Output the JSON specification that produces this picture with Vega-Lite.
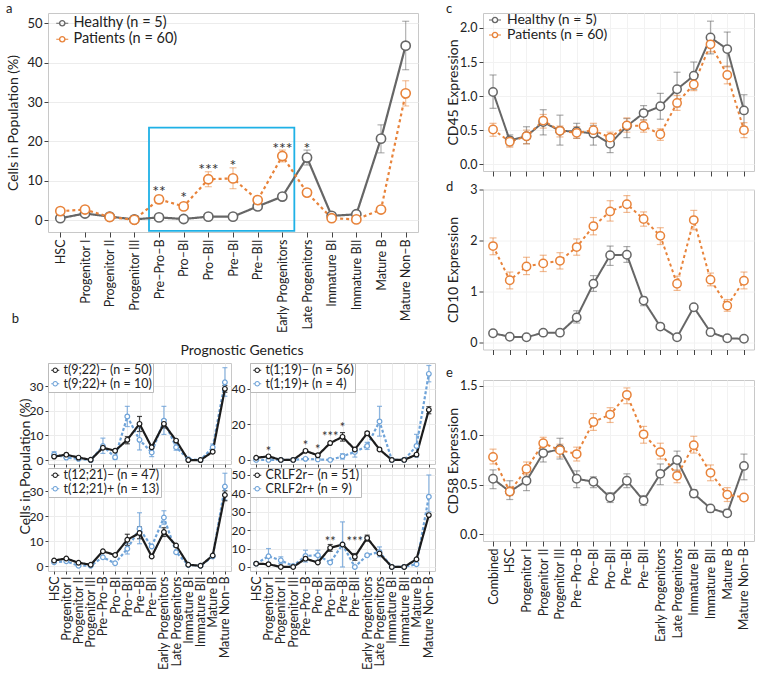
{
"$schema":"https://vega.github.io/schema/vega-lite/v6.json",
"background":"white",
"padding":{"left":5,"top":2,"right":0,"bottom":0},
"config":{"font":"Lato","view":{"stroke":"#c8c8c8"},
 "axis":{"labelFont":"Lato","titleFont":"Lato","labelColor":"#222","titleColor":"#222","tickColor":"#444","domain":false,"titleFontWeight":"normal","labelFontSize":12,"titleFontSize":13,"gridColor":"#ececec","labelPadding":2},
 "legend":{"labelFont":"Lato","labelColor":"#222"},
 "title":{"anchor":"start","frame":"bounds","fontSize":13,"fontWeight":"normal","offset":-3,"font":"Lato","color":"#222"}},
"datasets":{
"a":[
{"c":"HSC","g":"Healthy (n = 5)","v":0.5,"lo":0.2,"hi":0.8},
{"c":"Progenitor I","g":"Healthy (n = 5)","v":1.7,"lo":1.2,"hi":2.2},
{"c":"Progenitor II","g":"Healthy (n = 5)","v":0.9},
{"c":"Progenitor III","g":"Healthy (n = 5)","v":0.2},
{"c":"Pre–Pro–B","g":"Healthy (n = 5)","v":0.7},
{"c":"Pro–BI","g":"Healthy (n = 5)","v":0.3},
{"c":"Pro–BII","g":"Healthy (n = 5)","v":0.9},
{"c":"Pre–BI","g":"Healthy (n = 5)","v":0.9},
{"c":"Pre–BII","g":"Healthy (n = 5)","v":3.5,"lo":2.8,"hi":4.2},
{"c":"Early Progenitors","g":"Healthy (n = 5)","v":6.0,"lo":5.2,"hi":6.8},
{"c":"Late Progenitors","g":"Healthy (n = 5)","v":15.9,"lo":14.0,"hi":17.8},
{"c":"Immature BI","g":"Healthy (n = 5)","v":1.1},
{"c":"Immature BII","g":"Healthy (n = 5)","v":1.5},
{"c":"Mature B","g":"Healthy (n = 5)","v":20.7,"lo":17.1,"hi":24.2},
{"c":"Mature Non–B","g":"Healthy (n = 5)","v":44.3,"lo":38.2,"hi":50.5},
{"c":"HSC","g":"Patients (n = 60)","v":2.3},
{"c":"Progenitor I","g":"Patients (n = 60)","v":2.7},
{"c":"Progenitor II","g":"Patients (n = 60)","v":0.8},
{"c":"Progenitor III","g":"Patients (n = 60)","v":0.1},
{"c":"Pre–Pro–B","g":"Patients (n = 60)","v":5.3,"lo":4.3,"hi":6.3},
{"c":"Pro–BI","g":"Patients (n = 60)","v":3.5,"lo":2.7,"hi":4.3},
{"c":"Pro–BII","g":"Patients (n = 60)","v":10.4,"lo":8.5,"hi":12.3},
{"c":"Pre–BI","g":"Patients (n = 60)","v":10.6,"lo":8.0,"hi":13.3},
{"c":"Pre–BII","g":"Patients (n = 60)","v":5.1,"lo":4.2,"hi":6.0},
{"c":"Early Progenitors","g":"Patients (n = 60)","v":16.3,"lo":14.8,"hi":17.8},
{"c":"Late Progenitors","g":"Patients (n = 60)","v":7.0,"lo":6.2,"hi":7.8},
{"c":"Immature BI","g":"Patients (n = 60)","v":0.5},
{"c":"Immature BII","g":"Patients (n = 60)","v":0.2},
{"c":"Mature B","g":"Patients (n = 60)","v":2.7,"lo":2.0,"hi":3.4},
{"c":"Mature Non–B","g":"Patients (n = 60)","v":32.2,"lo":29.0,"hi":35.4}
],
"sa":[
{"c":"Pre–Pro–B","y":8.4,"s":"**"},
{"c":"Pro–BI","y":6.8,"s":"*"},
{"c":"Pro–BII","y":14.0,"s":"***"},
{"c":"Pre–BI","y":14.9,"s":"*"},
{"c":"Early Progenitors","y":19.4,"s":"***"},
{"c":"Late Progenitors","y":19.4,"s":"*"}
],
"box":[{"c1":"Pre–Pro–B","c2":"Early Progenitors","y1":23.5,"y2":-2.7}],
"cd45":[
{"c":"Combined","g":"Healthy (n = 5)","v":1.06,"lo":0.82,"hi":1.31},
{"c":"HSC","g":"Healthy (n = 5)","v":0.35,"lo":0.27,"hi":0.43},
{"c":"Progenitor I","g":"Healthy (n = 5)","v":0.41,"lo":0.30,"hi":0.55},
{"c":"Progenitor II","g":"Healthy (n = 5)","v":0.62,"lo":0.43,"hi":0.80},
{"c":"Progenitor III","g":"Healthy (n = 5)","v":0.49,"lo":0.28,"hi":0.72},
{"c":"Pre–Pro–B","g":"Healthy (n = 5)","v":0.48,"lo":0.38,"hi":0.60},
{"c":"Pro–BI","g":"Healthy (n = 5)","v":0.45,"lo":0.28,"hi":0.57},
{"c":"Pro–BII","g":"Healthy (n = 5)","v":0.30,"lo":0.17,"hi":0.43},
{"c":"Pre–BI","g":"Healthy (n = 5)","v":0.56,"lo":0.39,"hi":0.67},
{"c":"Pre–BII","g":"Healthy (n = 5)","v":0.75,"lo":0.65,"hi":0.86},
{"c":"Early Progenitors","g":"Healthy (n = 5)","v":0.85,"lo":0.66,"hi":1.04},
{"c":"Late Progenitors","g":"Healthy (n = 5)","v":1.10,"lo":0.84,"hi":1.35},
{"c":"Immature BI","g":"Healthy (n = 5)","v":1.30,"lo":1.10,"hi":1.50},
{"c":"Immature BII","g":"Healthy (n = 5)","v":1.86,"lo":1.62,"hi":2.10},
{"c":"Mature B","g":"Healthy (n = 5)","v":1.69,"lo":1.43,"hi":1.94},
{"c":"Mature Non–B","g":"Healthy (n = 5)","v":0.79,"lo":0.55,"hi":1.02},
{"c":"Combined","g":"Patients (n = 60)","v":0.51,"lo":0.41,"hi":0.60},
{"c":"HSC","g":"Patients (n = 60)","v":0.33,"lo":0.25,"hi":0.40},
{"c":"Progenitor I","g":"Patients (n = 60)","v":0.41,"lo":0.30,"hi":0.50},
{"c":"Progenitor II","g":"Patients (n = 60)","v":0.64,"lo":0.53,"hi":0.73},
{"c":"Progenitor III","g":"Patients (n = 60)","v":0.49,"lo":0.40,"hi":0.56},
{"c":"Pre–Pro–B","g":"Patients (n = 60)","v":0.46,"lo":0.38,"hi":0.55},
{"c":"Pro–BI","g":"Patients (n = 60)","v":0.50,"lo":0.40,"hi":0.60},
{"c":"Pro–BII","g":"Patients (n = 60)","v":0.39,"lo":0.31,"hi":0.47},
{"c":"Pre–BI","g":"Patients (n = 60)","v":0.57,"lo":0.47,"hi":0.68},
{"c":"Pre–BII","g":"Patients (n = 60)","v":0.56,"lo":0.47,"hi":0.65},
{"c":"Early Progenitors","g":"Patients (n = 60)","v":0.44,"lo":0.35,"hi":0.52},
{"c":"Late Progenitors","g":"Patients (n = 60)","v":0.90,"lo":0.79,"hi":1.01},
{"c":"Immature BI","g":"Patients (n = 60)","v":1.17,"lo":1.08,"hi":1.28},
{"c":"Immature BII","g":"Patients (n = 60)","v":1.76,"lo":1.65,"hi":1.87},
{"c":"Mature B","g":"Patients (n = 60)","v":1.31,"lo":1.18,"hi":1.44},
{"c":"Mature Non–B","g":"Patients (n = 60)","v":0.50,"lo":0.39,"hi":0.61}
],
"cd10":[
{"c":"Combined","g":"Healthy (n = 5)","v":0.18,"lo":0.14,"hi":0.22},
{"c":"HSC","g":"Healthy (n = 5)","v":0.11},
{"c":"Progenitor I","g":"Healthy (n = 5)","v":0.10},
{"c":"Progenitor II","g":"Healthy (n = 5)","v":0.19,"lo":0.14,"hi":0.24},
{"c":"Progenitor III","g":"Healthy (n = 5)","v":0.19},
{"c":"Pre–Pro–B","g":"Healthy (n = 5)","v":0.49,"lo":0.38,"hi":0.62},
{"c":"Pro–BI","g":"Healthy (n = 5)","v":1.15,"lo":1.0,"hi":1.31},
{"c":"Pro–BII","g":"Healthy (n = 5)","v":1.71,"lo":1.51,"hi":1.89},
{"c":"Pre–BI","g":"Healthy (n = 5)","v":1.72,"lo":1.57,"hi":1.88},
{"c":"Pre–BII","g":"Healthy (n = 5)","v":0.82,"lo":0.72,"hi":0.89},
{"c":"Early Progenitors","g":"Healthy (n = 5)","v":0.31,"lo":0.26,"hi":0.36},
{"c":"Late Progenitors","g":"Healthy (n = 5)","v":0.10},
{"c":"Immature BI","g":"Healthy (n = 5)","v":0.69},
{"c":"Immature BII","g":"Healthy (n = 5)","v":0.20},
{"c":"Mature B","g":"Healthy (n = 5)","v":0.08},
{"c":"Mature Non–B","g":"Healthy (n = 5)","v":0.07},
{"c":"Combined","g":"Patients (n = 60)","v":1.89,"lo":1.72,"hi":2.05},
{"c":"HSC","g":"Patients (n = 60)","v":1.22,"lo":1.05,"hi":1.38},
{"c":"Progenitor I","g":"Patients (n = 60)","v":1.49,"lo":1.33,"hi":1.67},
{"c":"Progenitor II","g":"Patients (n = 60)","v":1.55,"lo":1.39,"hi":1.71},
{"c":"Progenitor III","g":"Patients (n = 60)","v":1.60,"lo":1.44,"hi":1.76},
{"c":"Pre–Pro–B","g":"Patients (n = 60)","v":1.87,"lo":1.71,"hi":2.03},
{"c":"Pro–BI","g":"Patients (n = 60)","v":2.28,"lo":2.11,"hi":2.45},
{"c":"Pro–BII","g":"Patients (n = 60)","v":2.57,"lo":2.38,"hi":2.78},
{"c":"Pre–BI","g":"Patients (n = 60)","v":2.71,"lo":2.55,"hi":2.88},
{"c":"Pre–BII","g":"Patients (n = 60)","v":2.42,"lo":2.28,"hi":2.56},
{"c":"Early Progenitors","g":"Patients (n = 60)","v":2.09,"lo":1.92,"hi":2.25},
{"c":"Late Progenitors","g":"Patients (n = 60)","v":1.15,"lo":1.02,"hi":1.30},
{"c":"Immature BI","g":"Patients (n = 60)","v":2.40,"lo":2.21,"hi":2.59},
{"c":"Immature BII","g":"Patients (n = 60)","v":1.23,"lo":1.11,"hi":1.36},
{"c":"Mature B","g":"Patients (n = 60)","v":0.72,"lo":0.61,"hi":0.84},
{"c":"Mature Non–B","g":"Patients (n = 60)","v":1.21,"lo":1.05,"hi":1.38}
],
"cd58":[
{"c":"Combined","g":"Healthy (n = 5)","v":0.56,"lo":0.46,"hi":0.65},
{"c":"HSC","g":"Healthy (n = 5)","v":0.43,"lo":0.35,"hi":0.54},
{"c":"Progenitor I","g":"Healthy (n = 5)","v":0.54,"lo":0.44,"hi":0.64},
{"c":"Progenitor II","g":"Healthy (n = 5)","v":0.82,"lo":0.73,"hi":0.91},
{"c":"Progenitor III","g":"Healthy (n = 5)","v":0.86,"lo":0.76,"hi":0.97},
{"c":"Pre–Pro–B","g":"Healthy (n = 5)","v":0.56,"lo":0.47,"hi":0.64},
{"c":"Pro–BI","g":"Healthy (n = 5)","v":0.53,"lo":0.47,"hi":0.58},
{"c":"Pro–BII","g":"Healthy (n = 5)","v":0.37,"lo":0.32,"hi":0.42},
{"c":"Pre–BI","g":"Healthy (n = 5)","v":0.54,"lo":0.47,"hi":0.61},
{"c":"Pre–BII","g":"Healthy (n = 5)","v":0.34,"lo":0.29,"hi":0.39},
{"c":"Early Progenitors","g":"Healthy (n = 5)","v":0.61,"lo":0.50,"hi":0.71},
{"c":"Late Progenitors","g":"Healthy (n = 5)","v":0.75,"lo":0.64,"hi":0.84},
{"c":"Immature BI","g":"Healthy (n = 5)","v":0.41,"lo":0.37,"hi":0.45},
{"c":"Immature BII","g":"Healthy (n = 5)","v":0.26,"lo":0.22,"hi":0.29},
{"c":"Mature B","g":"Healthy (n = 5)","v":0.21,"lo":0.18,"hi":0.25},
{"c":"Mature Non–B","g":"Healthy (n = 5)","v":0.69,"lo":0.55,"hi":0.81},
{"c":"Combined","g":"Patients (n = 60)","v":0.78,"lo":0.71,"hi":0.86},
{"c":"HSC","g":"Patients (n = 60)","v":0.43,"lo":0.39,"hi":0.48},
{"c":"Progenitor I","g":"Patients (n = 60)","v":0.66,"lo":0.60,"hi":0.73},
{"c":"Progenitor II","g":"Patients (n = 60)","v":0.92,"lo":0.85,"hi":0.98},
{"c":"Progenitor III","g":"Patients (n = 60)","v":0.85,"lo":0.78,"hi":0.91},
{"c":"Pre–Pro–B","g":"Patients (n = 60)","v":0.81,"lo":0.74,"hi":0.88},
{"c":"Pro–BI","g":"Patients (n = 60)","v":1.135,"lo":1.05,"hi":1.22},
{"c":"Pro–BII","g":"Patients (n = 60)","v":1.21,"lo":1.13,"hi":1.28},
{"c":"Pre–BI","g":"Patients (n = 60)","v":1.41,"lo":1.32,"hi":1.48},
{"c":"Pre–BII","g":"Patients (n = 60)","v":1.01,"lo":0.92,"hi":1.09},
{"c":"Early Progenitors","g":"Patients (n = 60)","v":0.83,"lo":0.76,"hi":0.92},
{"c":"Late Progenitors","g":"Patients (n = 60)","v":0.59,"lo":0.52,"hi":0.65},
{"c":"Immature BI","g":"Patients (n = 60)","v":0.90,"lo":0.82,"hi":0.99},
{"c":"Immature BII","g":"Patients (n = 60)","v":0.62,"lo":0.54,"hi":0.70},
{"c":"Mature B","g":"Patients (n = 60)","v":0.40,"lo":0.33,"hi":0.47},
{"c":"Mature Non–B","g":"Patients (n = 60)","v":0.37,"lo":0.34,"hi":0.40}
],
"b1":[
{"c":"HSC","g":"t(9;22)+ (n = 10)","v":2.3,"lo":1.1,"hi":3.4},
{"c":"Progenitor I","g":"t(9;22)+ (n = 10)","v":1.0},
{"c":"Progenitor II","g":"t(9;22)+ (n = 10)","v":0.5},
{"c":"Progenitor III","g":"t(9;22)+ (n = 10)","v":0.0},
{"c":"Pre–Pro–B","g":"t(9;22)+ (n = 10)","v":5.7,"lo":2.7,"hi":8.9},
{"c":"Pro–BI","g":"t(9;22)+ (n = 10)","v":1.1,"lo":0.4,"hi":2.0},
{"c":"Pro–BII","g":"t(9;22)+ (n = 10)","v":17.7,"lo":13.6,"hi":21.8},
{"c":"Pre–BI","g":"t(9;22)+ (n = 10)","v":8.2,"lo":4.1,"hi":13.0},
{"c":"Pre–BII","g":"t(9;22)+ (n = 10)","v":3.1,"lo":1.4,"hi":4.8},
{"c":"Early Progenitors","g":"t(9;22)+ (n = 10)","v":16.0,"lo":10.4,"hi":21.8},
{"c":"Late Progenitors","g":"t(9;22)+ (n = 10)","v":5.2,"lo":4.0,"hi":6.5},
{"c":"Immature BI","g":"t(9;22)+ (n = 10)","v":0.4},
{"c":"Immature BII","g":"t(9;22)+ (n = 10)","v":0.0},
{"c":"Mature B","g":"t(9;22)+ (n = 10)","v":5.2,"lo":4.0,"hi":6.5},
{"c":"Mature Non–B","g":"t(9;22)+ (n = 10)","v":31.6,"lo":25.9,"hi":37.5},
{"c":"HSC","g":"t(9;22)– (n = 50)","v":1.4},
{"c":"Progenitor I","g":"t(9;22)– (n = 50)","v":2.2},
{"c":"Progenitor II","g":"t(9;22)– (n = 50)","v":1.0},
{"c":"Progenitor III","g":"t(9;22)– (n = 50)","v":0.1},
{"c":"Pre–Pro–B","g":"t(9;22)– (n = 50)","v":5.0},
{"c":"Pro–BI","g":"t(9;22)– (n = 50)","v":3.8},
{"c":"Pro–BII","g":"t(9;22)– (n = 50)","v":8.2,"lo":6.6,"hi":9.5},
{"c":"Pre–BI","g":"t(9;22)– (n = 50)","v":14.7,"lo":11.6,"hi":17.7},
{"c":"Pre–BII","g":"t(9;22)– (n = 50)","v":5.2},
{"c":"Early Progenitors","g":"t(9;22)– (n = 50)","v":14.7,"lo":13.0,"hi":16.3},
{"c":"Late Progenitors","g":"t(9;22)– (n = 50)","v":7.9},
{"c":"Immature BI","g":"t(9;22)– (n = 50)","v":0.0},
{"c":"Immature BII","g":"t(9;22)– (n = 50)","v":0.0},
{"c":"Mature B","g":"t(9;22)– (n = 50)","v":3.4},
{"c":"Mature Non–B","g":"t(9;22)– (n = 50)","v":28.9,"lo":27.5,"hi":30.3}
],
"b2":[
{"c":"HSC","g":"t(1;19)+ (n = 4)","v":0.0},
{"c":"Progenitor I","g":"t(1;19)+ (n = 4)","v":0.0},
{"c":"Progenitor II","g":"t(1;19)+ (n = 4)","v":0.0},
{"c":"Progenitor III","g":"t(1;19)+ (n = 4)","v":0.0},
{"c":"Pre–Pro–B","g":"t(1;19)+ (n = 4)","v":0.6},
{"c":"Pro–BI","g":"t(1;19)+ (n = 4)","v":0.3},
{"c":"Pro–BII","g":"t(1;19)+ (n = 4)","v":0.0},
{"c":"Pre–BI","g":"t(1;19)+ (n = 4)","v":2.0,"lo":0.5,"hi":3.5},
{"c":"Pre–BII","g":"t(1;19)+ (n = 4)","v":4.5,"lo":1.6,"hi":6.5},
{"c":"Early Progenitors","g":"t(1;19)+ (n = 4)","v":7.9,"lo":5.9,"hi":9.9},
{"c":"Late Progenitors","g":"t(1;19)+ (n = 4)","v":21.7,"lo":13.4,"hi":30.2},
{"c":"Immature BI","g":"t(1;19)+ (n = 4)","v":0.0},
{"c":"Immature BII","g":"t(1;19)+ (n = 4)","v":0.0},
{"c":"Mature B","g":"t(1;19)+ (n = 4)","v":7.9,"lo":1.6,"hi":14.4},
{"c":"Mature Non–B","g":"t(1;19)+ (n = 4)","v":48.5,"lo":44.0,"hi":53.2},
{"c":"HSC","g":"t(1;19)– (n = 56)","v":1.2},
{"c":"Progenitor I","g":"t(1;19)– (n = 56)","v":2.0},
{"c":"Progenitor II","g":"t(1;19)– (n = 56)","v":0.0},
{"c":"Progenitor III","g":"t(1;19)– (n = 56)","v":0.0},
{"c":"Pre–Pro–B","g":"t(1;19)– (n = 56)","v":5.1},
{"c":"Pro–BI","g":"t(1;19)– (n = 56)","v":2.6},
{"c":"Pro–BII","g":"t(1;19)– (n = 56)","v":9.5},
{"c":"Pre–BI","g":"t(1;19)– (n = 56)","v":13.0,"lo":10.6,"hi":15.4},
{"c":"Pre–BII","g":"t(1;19)– (n = 56)","v":5.9},
{"c":"Early Progenitors","g":"t(1;19)– (n = 56)","v":15.0,"lo":14.0,"hi":16.0},
{"c":"Late Progenitors","g":"t(1;19)– (n = 56)","v":5.9},
{"c":"Immature BI","g":"t(1;19)– (n = 56)","v":0.0},
{"c":"Immature BII","g":"t(1;19)– (n = 56)","v":0.0},
{"c":"Mature B","g":"t(1;19)– (n = 56)","v":3.0},
{"c":"Mature Non–B","g":"t(1;19)– (n = 56)","v":28.2,"lo":26.0,"hi":30.0}
],
"s2":[
{"c":"Progenitor I","y":6.5,"s":"*"},
{"c":"Pre–Pro–B","y":9.9,"s":"*"},
{"c":"Pro–BI","y":7.9,"s":"*"},
{"c":"Pro–BII","y":15.0,"s":"***"},
{"c":"Pre–BI","y":20.3,"s":"*"}
],
"b3":[
{"c":"HSC","g":"t(12;21)+ (n = 13)","v":1.5},
{"c":"Progenitor I","g":"t(12;21)+ (n = 13)","v":1.9},
{"c":"Progenitor II","g":"t(12;21)+ (n = 13)","v":0.1},
{"c":"Progenitor III","g":"t(12;21)+ (n = 13)","v":0.1},
{"c":"Pre–Pro–B","g":"t(12;21)+ (n = 13)","v":3.5},
{"c":"Pro–BI","g":"t(12;21)+ (n = 13)","v":1.1},
{"c":"Pro–BII","g":"t(12;21)+ (n = 13)","v":6.9,"lo":4.8,"hi":8.9},
{"c":"Pre–BI","g":"t(12;21)+ (n = 13)","v":14.9,"lo":8.9,"hi":21.3},
{"c":"Pre–BII","g":"t(12;21)+ (n = 13)","v":7.8},
{"c":"Early Progenitors","g":"t(12;21)+ (n = 13)","v":19.4,"lo":16.7,"hi":22.1},
{"c":"Late Progenitors","g":"t(12;21)+ (n = 13)","v":5.5},
{"c":"Immature BI","g":"t(12;21)+ (n = 13)","v":0.4},
{"c":"Immature BII","g":"t(12;21)+ (n = 13)","v":0.1},
{"c":"Mature B","g":"t(12;21)+ (n = 13)","v":3.8},
{"c":"Mature Non–B","g":"t(12;21)+ (n = 13)","v":31.8,"lo":26.4,"hi":37.1},
{"c":"HSC","g":"t(12;21)– (n = 47)","v":2.2},
{"c":"Progenitor I","g":"t(12;21)– (n = 47)","v":3.0},
{"c":"Progenitor II","g":"t(12;21)– (n = 47)","v":1.3},
{"c":"Progenitor III","g":"t(12;21)– (n = 47)","v":0.5},
{"c":"Pre–Pro–B","g":"t(12;21)– (n = 47)","v":5.9},
{"c":"Pro–BI","g":"t(12;21)– (n = 47)","v":4.4},
{"c":"Pro–BII","g":"t(12;21)– (n = 47)","v":10.5,"lo":8.2,"hi":12.7},
{"c":"Pre–BI","g":"t(12;21)– (n = 47)","v":13.2,"lo":10.9,"hi":15.6},
{"c":"Pre–BII","g":"t(12;21)– (n = 47)","v":3.8},
{"c":"Early Progenitors","g":"t(12;21)– (n = 47)","v":13.6,"lo":11.8,"hi":15.3},
{"c":"Late Progenitors","g":"t(12;21)– (n = 47)","v":8.2},
{"c":"Immature BI","g":"t(12;21)– (n = 47)","v":0.5},
{"c":"Immature BII","g":"t(12;21)– (n = 47)","v":0.1},
{"c":"Mature B","g":"t(12;21)– (n = 47)","v":4.2},
{"c":"Mature Non–B","g":"t(12;21)– (n = 47)","v":28.4,"lo":26.1,"hi":30.1}
],
"b4":[
{"c":"HSC","g":"CRLF2r+ (n = 9)","v":1.8},
{"c":"Progenitor I","g":"CRLF2r+ (n = 9)","v":5.8,"lo":1.8,"hi":10.0},
{"c":"Progenitor II","g":"CRLF2r+ (n = 9)","v":3.6,"lo":1.8,"hi":5.5},
{"c":"Progenitor III","g":"CRLF2r+ (n = 9)","v":0.5},
{"c":"Pre–Pro–B","g":"CRLF2r+ (n = 9)","v":6.0,"lo":2.7,"hi":9.1},
{"c":"Pro–BI","g":"CRLF2r+ (n = 9)","v":6.4,"lo":3.6,"hi":9.1},
{"c":"Pro–BII","g":"CRLF2r+ (n = 9)","v":2.4},
{"c":"Pre–BI","g":"CRLF2r+ (n = 9)","v":12.2,"lo":0.0,"hi":24.5},
{"c":"Pre–BII","g":"CRLF2r+ (n = 9)","v":0.0},
{"c":"Early Progenitors","g":"CRLF2r+ (n = 9)","v":6.4},
{"c":"Late Progenitors","g":"CRLF2r+ (n = 9)","v":8.2,"lo":5.5,"hi":10.9},
{"c":"Immature BI","g":"CRLF2r+ (n = 9)","v":0.0},
{"c":"Immature BII","g":"CRLF2r+ (n = 9)","v":0.0},
{"c":"Mature B","g":"CRLF2r+ (n = 9)","v":1.5},
{"c":"Mature Non–B","g":"CRLF2r+ (n = 9)","v":38.2,"lo":30.0,"hi":50.0},
{"c":"HSC","g":"CRLF2r– (n = 51)","v":1.8},
{"c":"Progenitor I","g":"CRLF2r– (n = 51)","v":1.5},
{"c":"Progenitor II","g":"CRLF2r– (n = 51)","v":0.0},
{"c":"Progenitor III","g":"CRLF2r– (n = 51)","v":0.0},
{"c":"Pre–Pro–B","g":"CRLF2r– (n = 51)","v":4.5},
{"c":"Pro–BI","g":"CRLF2r– (n = 51)","v":2.4},
{"c":"Pro–BII","g":"CRLF2r– (n = 51)","v":10.4,"lo":8.5,"hi":12.2},
{"c":"Pre–BI","g":"CRLF2r– (n = 51)","v":12.2},
{"c":"Pre–BII","g":"CRLF2r– (n = 51)","v":5.5,"lo":3.6,"hi":7.3},
{"c":"Early Progenitors","g":"CRLF2r– (n = 51)","v":15.8,"lo":14.0,"hi":17.3},
{"c":"Late Progenitors","g":"CRLF2r– (n = 51)","v":7.3},
{"c":"Immature BI","g":"CRLF2r– (n = 51)","v":0.0},
{"c":"Immature BII","g":"CRLF2r– (n = 51)","v":0.0},
{"c":"Mature B","g":"CRLF2r– (n = 51)","v":4.2},
{"c":"Mature Non–B","g":"CRLF2r– (n = 51)","v":28.2}
],
"s4":[
{"c":"Pro–BII","y":15.8,"s":"**"},
{"c":"Pre–BII","y":15.8,"s":"***"}
]
},
"spacing":9,
"resolve":{"scale":{"x":"independent","y":"independent","color":"independent","strokeDash":"independent"},"legend":{"color":"independent"}},
"hconcat":[
{"spacing":10,"align":"none",
 "resolve":{"scale":{"x":"independent","y":"independent","color":"independent","strokeDash":"independent"},"legend":{"color":"independent"}},
 "vconcat":[
 {"width":370,"height":219,"title":{"text":"a"},
  "data":{"name":"a"},
  "encoding":{"x":{"field":"c","type":"ordinal","sort":["HSC","Progenitor I","Progenitor II","Progenitor III","Pre–Pro–B","Pro–BI","Pro–BII","Pre–BI","Pre–BII","Early Progenitors","Late Progenitors","Immature BI","Immature BII","Mature B","Mature Non–B"],"scale":{"type":"point","padding":0.5,"domain":["HSC","Progenitor I","Progenitor II","Progenitor III","Pre–Pro–B","Pro–BI","Pro–BII","Pre–BI","Pre–BII","Early Progenitors","Late Progenitors","Immature BI","Immature BII","Mature B","Mature Non–B"]},
    "axis":{"title":"b","titleX":-33,"titleY":86,"titleAngle":0,"titleAlign":"center","titleBaseline":"middle","titleFontSize":13,"labelAngle":-90,"labelFontSize":12.5,"tickSize":5,"labelPadding":2}}},
  "layer":[
   {"data":{"name":"box"},"mark":{"type":"rect","fill":null,"fillOpacity":0,"stroke":"#1fb1e6","strokeWidth":1.8,"xOffset":-10,"x2Offset":12},
    "encoding":{"x":{"field":"c1","type":"ordinal","scale":{"type":"point","padding":0.5,"domain":["HSC","Progenitor I","Progenitor II","Progenitor III","Pre–Pro–B","Pro–BI","Pro–BII","Pre–BI","Pre–BII","Early Progenitors","Late Progenitors","Immature BI","Immature BII","Mature B","Mature Non–B"]}},"x2":{"field":"c2"},
     "y":{"field":"y1","type":"quantitative","scale":{"domain":[-3,52.6],"nice":false,"zero":false},"axis":{"values":[0,10,20,30,40,50],"titleX":-35,"titleBaseline":"middle","titleFontSize":14,"labelFontSize":13,"tickSize":4},"title":"Cells in Population (%)"},"y2":{"field":"y2"}}},
   {"transform":[{"filter":"isValid(datum.lo)"}],"mark":{"type":"errorbar","ticks":{"size":7},"thickness":1.2,"opacity":0.5},
    "encoding":{"y":{"field":"lo","type":"quantitative","scale":{"domain":[-3,52.6],"nice":false,"zero":false},"axis":{"values":[0,10,20,30,40,50],"titleX":-35,"titleBaseline":"middle","titleFontSize":14,"labelFontSize":13,"tickSize":4},"title":"Cells in Population (%)"},"y2":{"field":"hi"},
     "color":{"field":"g","type":"nominal","scale":{"domain":["Healthy (n = 5)","Patients (n = 60)"],"range":["#666666","#e8833a"]},"legend":{"orient":"top-left","title":null,"offset":3,"padding":0,"labelFontSize":14.5,"symbolType":"M-1,-0.1H-0.55V0.1H-1Z M0.55,-0.1H1V0.1H0.55Z M0.56,0A0.56,0.56,0,1,1,-0.56,0A0.56,0.56,0,1,1,0.56,0Z M0.32,0A0.32,0.32,0,1,0,-0.32,0A0.32,0.32,0,1,0,0.32,0Z","symbolSize":144,"symbolStrokeWidth":0,"symbolOpacity":1,"symbolOffset":4,"rowPadding":1,"labelOffset":4}}}},
   {"mark":{"type":"line","strokeWidth":2.2},
    "encoding":{"y":{"field":"v","type":"quantitative","scale":{"domain":[-3,52.6],"nice":false,"zero":false},"axis":{"values":[0,10,20,30,40,50],"titleX":-35,"titleBaseline":"middle","titleFontSize":14,"labelFontSize":13,"tickSize":4},"title":"Cells in Population (%)"},
     "color":{"field":"g","type":"nominal","scale":{"domain":["Healthy (n = 5)","Patients (n = 60)"],"range":["#666666","#e8833a"]},"legend":{"orient":"top-left","title":null,"offset":3,"padding":0,"labelFontSize":14.5,"symbolType":"M-1,-0.1H-0.55V0.1H-1Z M0.55,-0.1H1V0.1H0.55Z M0.56,0A0.56,0.56,0,1,1,-0.56,0A0.56,0.56,0,1,1,0.56,0Z M0.32,0A0.32,0.32,0,1,0,-0.32,0A0.32,0.32,0,1,0,0.32,0Z","symbolSize":144,"symbolStrokeWidth":0,"symbolOpacity":1,"symbolOffset":4,"rowPadding":1,"labelOffset":4}},
     "strokeDash":{"field":"g","type":"nominal","scale":{"domain":["Healthy (n = 5)","Patients (n = 60)"],"range":[[1,0],[3,3]]},"legend":null}}},
   {"mark":{"type":"point","filled":false,"fill":"white","fillOpacity":1,"size":85,"strokeWidth":1.6,"opacity":1},
    "encoding":{"y":{"field":"v","type":"quantitative","scale":{"domain":[-3,52.6],"nice":false,"zero":false},"axis":{"values":[0,10,20,30,40,50],"titleX":-35,"titleBaseline":"middle","titleFontSize":14,"labelFontSize":13,"tickSize":4},"title":"Cells in Population (%)"},
     "color":{"field":"g","type":"nominal","scale":{"domain":["Healthy (n = 5)","Patients (n = 60)"],"range":["#666666","#e8833a"]},"legend":{"orient":"top-left","title":null,"offset":3,"padding":0,"labelFontSize":14.5,"symbolType":"M-1,-0.1H-0.55V0.1H-1Z M0.55,-0.1H1V0.1H0.55Z M0.56,0A0.56,0.56,0,1,1,-0.56,0A0.56,0.56,0,1,1,0.56,0Z M0.32,0A0.32,0.32,0,1,0,-0.32,0A0.32,0.32,0,1,0,0.32,0Z","symbolSize":144,"symbolStrokeWidth":0,"symbolOpacity":1,"symbolOffset":4,"rowPadding":1,"labelOffset":4}}}},
   {"data":{"name":"sa"},"mark":{"type":"text","fontSize":16,"baseline":"middle","dy":5,"color":"#333"},
    "encoding":{"y":{"field":"y","type":"quantitative","scale":{"domain":[-3,52.6],"nice":false,"zero":false},"axis":{"values":[0,10,20,30,40,50],"titleX":-35,"titleBaseline":"middle","titleFontSize":14,"labelFontSize":13,"tickSize":4},"title":"Cells in Population (%)"},"text":{"field":"s"}}}
  ]},
 {"title":{"text":"Prognostic Genetics","anchor":"start","align":"center","dx":194,"fontSize":14,"offset":4,"frame":"group"},
  "columns":2,"bounds":"flush","spacing":{"row":4,"column":19},
  "resolve":{"scale":{"x":"independent","y":"independent","color":"independent","strokeDash":"independent"},"legend":{"color":"independent"}},
  "concat":[
  {"width":183,"height":101,"data":{"name":"b1"},
   "encoding":{"x":{"field":"c","type":"ordinal","sort":["HSC","Progenitor I","Progenitor II","Progenitor III","Pre–Pro–B","Pro–BI","Pro–BII","Pre–BI","Pre–BII","Early Progenitors","Late Progenitors","Immature BI","Immature BII","Mature B","Mature Non–B"],"scale":{"type":"point","padding":0.5},"axis":{"title":null,"labels":false,"tickSize":3,"grid":true}},
     "y":{"field":"v","type":"quantitative","scale":{"domain":[-1.6,39.4],"nice":false,"zero":false},"axis":{"values":[0,10,20,30],"title":null,"tickSize":3,"grid":true,"labelFontSize":12}},
     "color":{"field":"g","type":"nominal","scale":{"domain":["t(9;22)– (n = 50)","t(9;22)+ (n = 10)"],"range":["#1c1c1c","#6fa3d8"]},"legend":{"orient":"top-left","title":null,"offset":0,"padding":1,"labelFontSize":12.5,"symbolType":"M-1,-0.13H-0.65V0.13H-1Z M0.65,-0.13H1V0.13H0.65Z M0.68,0A0.68,0.68,0,1,1,-0.68,0A0.68,0.68,0,1,1,0.68,0Z M0.42,0A0.42,0.42,0,1,0,-0.42,0A0.42,0.42,0,1,0,0.42,0Z","symbolSize":64,"symbolStrokeWidth":0,"symbolOpacity":1,"rowPadding":0.5,"labelOffset":2,"strokeColor":"#bbbbbb","fillColor":"white"}}},
   "layer":[
    {"transform":[{"filter":"isValid(datum.lo)"}],"mark":{"type":"errorbar","ticks":{"size":5},"thickness":1.2,"opacity":0.8},"encoding":{"y":{"field":"lo","type":"quantitative"},"y2":{"field":"hi"}}},
    {"mark":{"type":"line","strokeWidth":2.2},"encoding":{"strokeDash":{"field":"g","type":"nominal","scale":{"domain":["t(9;22)– (n = 50)","t(9;22)+ (n = 10)"],"range":[[1,0],[3,2]]},"legend":null}}},
    {"mark":{"type":"point","filled":false,"fill":"white","fillOpacity":1,"size":22,"strokeWidth":1.2,"opacity":1}}
   ]},
  {"width":185,"height":101,"data":{"name":"b2"},
   "encoding":{"x":{"field":"c","type":"ordinal","sort":["HSC","Progenitor I","Progenitor II","Progenitor III","Pre–Pro–B","Pro–BI","Pro–BII","Pre–BI","Pre–BII","Early Progenitors","Late Progenitors","Immature BI","Immature BII","Mature B","Mature Non–B"],"scale":{"type":"point","padding":0.5,"domain":["HSC","Progenitor I","Progenitor II","Progenitor III","Pre–Pro–B","Pro–BI","Pro–BII","Pre–BI","Pre–BII","Early Progenitors","Late Progenitors","Immature BI","Immature BII","Mature B","Mature Non–B"]},"axis":{"title":null,"labels":false,"tickSize":3,"grid":true}},
     "y":{"field":"v","type":"quantitative","scale":{"domain":[-2.3,54.6],"nice":false,"zero":false},"axis":{"values":[0,20,40],"title":null,"tickSize":3,"grid":true,"labelFontSize":12}},
     "color":{"field":"g","type":"nominal","scale":{"domain":["t(1;19)– (n = 56)","t(1;19)+ (n = 4)"],"range":["#1c1c1c","#6fa3d8"]},"legend":{"orient":"top-left","title":null,"offset":0,"padding":1,"labelFontSize":12.5,"symbolType":"M-1,-0.13H-0.65V0.13H-1Z M0.65,-0.13H1V0.13H0.65Z M0.68,0A0.68,0.68,0,1,1,-0.68,0A0.68,0.68,0,1,1,0.68,0Z M0.42,0A0.42,0.42,0,1,0,-0.42,0A0.42,0.42,0,1,0,0.42,0Z","symbolSize":64,"symbolStrokeWidth":0,"symbolOpacity":1,"rowPadding":0.5,"labelOffset":2,"strokeColor":"#bbbbbb","fillColor":"white"}}},
   "layer":[
    {"transform":[{"filter":"isValid(datum.lo)"}],"mark":{"type":"errorbar","ticks":{"size":5},"thickness":1.2,"opacity":0.8},"encoding":{"y":{"field":"lo","type":"quantitative"},"y2":{"field":"hi"}}},
    {"mark":{"type":"line","strokeWidth":2.2},"encoding":{"strokeDash":{"field":"g","type":"nominal","scale":{"domain":["t(1;19)– (n = 56)","t(1;19)+ (n = 4)"],"range":[[1,0],[3,2]]},"legend":null}}},
    {"mark":{"type":"point","filled":false,"fill":"white","fillOpacity":1,"size":22,"strokeWidth":1.2,"opacity":1}},
    {"data":{"name":"s2"},"mark":{"type":"text","fontSize":13,"baseline":"middle","dy":4,"color":"#333"},"encoding":{"y":{"field":"y","type":"quantitative"},"text":{"field":"s"},"color":{"value":"#333"}}}
   ]},
  {"width":183,"height":103,"data":{"name":"b3"},
   "encoding":{"x":{"field":"c","type":"ordinal","sort":["HSC","Progenitor I","Progenitor II","Progenitor III","Pre–Pro–B","Pro–BI","Pro–BII","Pre–BI","Pre–BII","Early Progenitors","Late Progenitors","Immature BI","Immature BII","Mature B","Mature Non–B"],"scale":{"type":"point","padding":0.5},"axis":{"title":null,"labelAngle":-90,"labelFontSize":12.5,"labelOverlap":false,"tickSize":3,"grid":true}},
     "y":{"field":"v","type":"quantitative","scale":{"domain":[-2,39.2],"nice":false,"zero":false},"axis":{"values":[0,10,20,30],"title":"Cells in Population (%)","titleX":-23,"titleY":-2,"titleBaseline":"middle","titleFontSize":14,"tickSize":3,"grid":true,"labelFontSize":12}},
     "color":{"field":"g","type":"nominal","scale":{"domain":["t(12;21)– (n = 47)","t(12;21)+ (n = 13)"],"range":["#1c1c1c","#6fa3d8"]},"legend":{"orient":"top-left","title":null,"offset":0,"padding":1,"labelFontSize":12.5,"symbolType":"M-1,-0.13H-0.65V0.13H-1Z M0.65,-0.13H1V0.13H0.65Z M0.68,0A0.68,0.68,0,1,1,-0.68,0A0.68,0.68,0,1,1,0.68,0Z M0.42,0A0.42,0.42,0,1,0,-0.42,0A0.42,0.42,0,1,0,0.42,0Z","symbolSize":64,"symbolStrokeWidth":0,"symbolOpacity":1,"rowPadding":0.5,"labelOffset":2,"strokeColor":"#bbbbbb","fillColor":"white"}}},
   "layer":[
    {"transform":[{"filter":"isValid(datum.lo)"}],"mark":{"type":"errorbar","ticks":{"size":5},"thickness":1.2,"opacity":0.8},"encoding":{"y":{"field":"lo","type":"quantitative","title":"Cells in Population (%)"},"y2":{"field":"hi"}}},
    {"mark":{"type":"line","strokeWidth":2.2},"encoding":{"strokeDash":{"field":"g","type":"nominal","scale":{"domain":["t(12;21)– (n = 47)","t(12;21)+ (n = 13)"],"range":[[1,0],[3,2]]},"legend":null}}},
    {"mark":{"type":"point","filled":false,"fill":"white","fillOpacity":1,"size":22,"strokeWidth":1.2,"opacity":1}}
   ]},
  {"width":185,"height":103,"data":{"name":"b4"},
   "encoding":{"x":{"field":"c","type":"ordinal","sort":["HSC","Progenitor I","Progenitor II","Progenitor III","Pre–Pro–B","Pro–BI","Pro–BII","Pre–BI","Pre–BII","Early Progenitors","Late Progenitors","Immature BI","Immature BII","Mature B","Mature Non–B"],"scale":{"type":"point","padding":0.5,"domain":["HSC","Progenitor I","Progenitor II","Progenitor III","Pre–Pro–B","Pro–BI","Pro–BII","Pre–BI","Pre–BII","Early Progenitors","Late Progenitors","Immature BI","Immature BII","Mature B","Mature Non–B"]},"axis":{"title":null,"labelAngle":-90,"labelFontSize":12.5,"labelOverlap":false,"tickSize":3,"grid":true}},
     "y":{"field":"v","type":"quantitative","scale":{"domain":[-2.2,53.8],"nice":false,"zero":false},"axis":{"values":[0,10,20,30,40,50],"title":null,"tickSize":3,"grid":true,"labelFontSize":12}},
     "color":{"field":"g","type":"nominal","scale":{"domain":["CRLF2r– (n = 51)","CRLF2r+ (n = 9)"],"range":["#1c1c1c","#6fa3d8"]},"legend":{"orient":"top-left","title":null,"offset":0,"padding":1,"labelFontSize":12.5,"symbolType":"M-1,-0.13H-0.65V0.13H-1Z M0.65,-0.13H1V0.13H0.65Z M0.68,0A0.68,0.68,0,1,1,-0.68,0A0.68,0.68,0,1,1,0.68,0Z M0.42,0A0.42,0.42,0,1,0,-0.42,0A0.42,0.42,0,1,0,0.42,0Z","symbolSize":64,"symbolStrokeWidth":0,"symbolOpacity":1,"rowPadding":0.5,"labelOffset":2,"strokeColor":"#bbbbbb","fillColor":"white"}}},
   "layer":[
    {"transform":[{"filter":"isValid(datum.lo)"}],"mark":{"type":"errorbar","ticks":{"size":5},"thickness":1.2,"opacity":0.8},"encoding":{"y":{"field":"lo","type":"quantitative"},"y2":{"field":"hi"}}},
    {"mark":{"type":"line","strokeWidth":2.2},"encoding":{"strokeDash":{"field":"g","type":"nominal","scale":{"domain":["CRLF2r– (n = 51)","CRLF2r+ (n = 9)"],"range":[[1,0],[3,2]]},"legend":null}}},
    {"mark":{"type":"point","filled":false,"fill":"white","fillOpacity":1,"size":22,"strokeWidth":1.2,"opacity":1}},
    {"data":{"name":"s4"},"mark":{"type":"text","fontSize":13,"baseline":"middle","dy":4,"color":"#333"},"encoding":{"y":{"field":"y","type":"quantitative"},"text":{"field":"s"},"color":{"value":"#333"}}}
   ]}
  ]}
 ]},
{"spacing":2.5,
 "resolve":{"scale":{"x":"independent","y":"independent","color":"independent","strokeDash":"independent"},"legend":{"color":"independent"}},
 "vconcat":[
 {"width":271,"height":158,"title":{"text":"c"},"data":{"name":"cd45"},
  "encoding":{"x":{"field":"c","type":"ordinal","sort":["Combined","HSC","Progenitor I","Progenitor II","Progenitor III","Pre–Pro–B","Pro–BI","Pro–BII","Pre–BI","Pre–BII","Early Progenitors","Late Progenitors","Immature BI","Immature BII","Mature B","Mature Non–B"],"scale":{"type":"point","padding":0.6},"axis":{"title":null,"labels":false,"tickSize":5,"grid":true,"gridColor":"#f2f2f2"}},
   "y":{"field":"v","type":"quantitative","scale":{"domain":[-0.1,2.22],"nice":false,"zero":false},"axis":{"values":[0,0.5,1,1.5,2],"format":".1f","title":"CD45 Expression","titleX":-30,"titleBaseline":"middle","titleFontSize":14,"tickSize":4,"grid":true,"gridColor":"#f2f2f2","labelFontSize":12.5}},
   "color":{"field":"g","type":"nominal","scale":{"domain":["Healthy (n = 5)","Patients (n = 60)"],"range":["#666666","#e8833a"]},"legend":{"orient":"top-left","title":null,"offset":0,"padding":0,"labelFontSize":14,"symbolType":"M-1,-0.1H-0.55V0.1H-1Z M0.55,-0.1H1V0.1H0.55Z M0.56,0A0.56,0.56,0,1,1,-0.56,0A0.56,0.56,0,1,1,0.56,0Z M0.32,0A0.32,0.32,0,1,0,-0.32,0A0.32,0.32,0,1,0,0.32,0Z","symbolSize":144,"symbolStrokeWidth":0,"symbolOpacity":1,"symbolOffset":5,"rowPadding":1,"labelOffset":5}}},
  "layer":[
   {"transform":[{"filter":"isValid(datum.lo)"}],"mark":{"type":"errorbar","ticks":{"size":7},"thickness":1.2,"opacity":0.55},"encoding":{"y":{"field":"lo","type":"quantitative","title":"CD45 Expression"},"y2":{"field":"hi"}}},
   {"mark":{"type":"line","strokeWidth":2},"encoding":{"strokeDash":{"field":"g","type":"nominal","scale":{"domain":["Healthy (n = 5)","Patients (n = 60)"],"range":[[1,0],[3,3]]},"legend":null}}},
   {"mark":{"type":"point","filled":false,"fill":"white","fillOpacity":1,"size":70,"strokeWidth":1.5,"opacity":1}}
  ]},
 {"spacing":10.5,
  "resolve":{"scale":{"x":"independent","y":"independent","color":"independent","strokeDash":"independent"},"legend":{"color":"independent"}},
  "vconcat":[
  {"width":271,"height":160,"title":{"text":"d","offset":-10},"data":{"name":"cd10"},
   "encoding":{"x":{"field":"c","type":"ordinal","sort":["Combined","HSC","Progenitor I","Progenitor II","Progenitor III","Pre–Pro–B","Pro–BI","Pro–BII","Pre–BI","Pre–BII","Early Progenitors","Late Progenitors","Immature BI","Immature BII","Mature B","Mature Non–B"],"scale":{"type":"point","padding":0.6},"axis":{"title":null,"labels":false,"tickSize":5,"grid":true,"gridColor":"#f2f2f2"}},
    "y":{"field":"v","type":"quantitative","scale":{"domain":[-0.14,3.0],"nice":false,"zero":false},"axis":{"values":[0,1,2,3],"format":"d","title":"CD10 Expression","titleX":-30,"titleBaseline":"middle","titleFontSize":14,"tickSize":4,"grid":true,"gridColor":"#f2f2f2","labelFontSize":12.5}},
    "color":{"field":"g","type":"nominal","scale":{"domain":["Healthy (n = 5)","Patients (n = 60)"],"range":["#666666","#e8833a"]},"legend":null}},
   "layer":[
    {"transform":[{"filter":"isValid(datum.lo)"}],"mark":{"type":"errorbar","ticks":{"size":7},"thickness":1.2,"opacity":0.55},"encoding":{"y":{"field":"lo","type":"quantitative","title":"CD10 Expression"},"y2":{"field":"hi"}}},
    {"mark":{"type":"line","strokeWidth":2},"encoding":{"strokeDash":{"field":"g","type":"nominal","scale":{"domain":["Healthy (n = 5)","Patients (n = 60)"],"range":[[1,0],[3,3]]},"legend":null}}},
    {"mark":{"type":"point","filled":false,"fill":"white","fillOpacity":1,"size":70,"strokeWidth":1.5,"opacity":1}}
   ]},
  {"width":271,"height":161,"title":{"text":"e","offset":0},"data":{"name":"cd58"},
   "encoding":{"x":{"field":"c","type":"ordinal","sort":["Combined","HSC","Progenitor I","Progenitor II","Progenitor III","Pre–Pro–B","Pro–BI","Pro–BII","Pre–BI","Pre–BII","Early Progenitors","Late Progenitors","Immature BI","Immature BII","Mature B","Mature Non–B"],"scale":{"type":"point","padding":0.6},"axis":{"title":null,"labelAngle":-90,"labelFontSize":12.5,"labelOverlap":false,"tickSize":5,"grid":true,"gridColor":"#f2f2f2"}},
    "y":{"field":"v","type":"quantitative","scale":{"domain":[-0.07,1.56],"nice":false,"zero":false},"axis":{"values":[0,0.5,1,1.5],"format":".1f","title":"CD58 Expression","titleX":-30,"titleBaseline":"middle","titleFontSize":14,"tickSize":4,"grid":true,"gridColor":"#f2f2f2","labelFontSize":12.5}},
    "color":{"field":"g","type":"nominal","scale":{"domain":["Healthy (n = 5)","Patients (n = 60)"],"range":["#666666","#e8833a"]},"legend":null}},
   "layer":[
    {"transform":[{"filter":"isValid(datum.lo)"}],"mark":{"type":"errorbar","ticks":{"size":7},"thickness":1.2,"opacity":0.55},"encoding":{"y":{"field":"lo","type":"quantitative","title":"CD58 Expression"},"y2":{"field":"hi"}}},
    {"mark":{"type":"line","strokeWidth":2},"encoding":{"strokeDash":{"field":"g","type":"nominal","scale":{"domain":["Healthy (n = 5)","Patients (n = 60)"],"range":[[1,0],[3,3]]},"legend":null}}},
    {"mark":{"type":"point","filled":false,"fill":"white","fillOpacity":1,"size":70,"strokeWidth":1.5,"opacity":1}}
   ]}
  ]}
 ]}
]
}
